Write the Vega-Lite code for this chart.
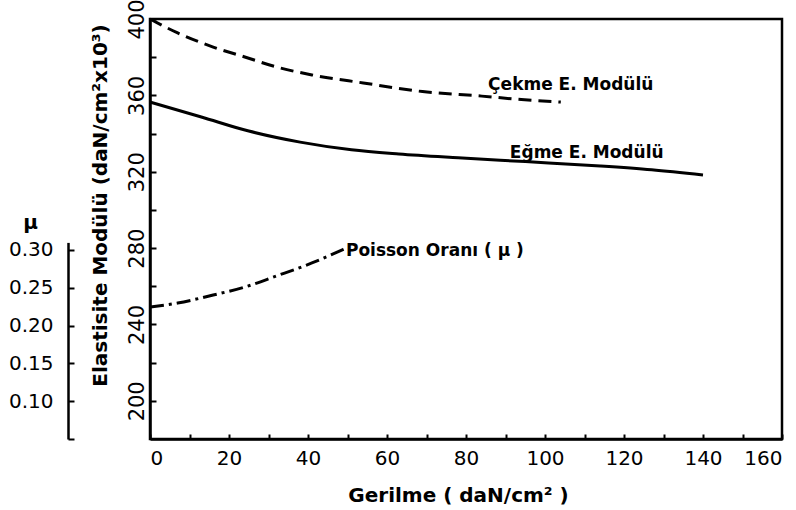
{
  "$schema": "https://vega.github.io/schema/vega-lite/v6.json",
  "width": 632,
  "height": 420,
  "autosize": {"type": "none"},
  "padding": {"left": 150, "top": 19, "right": 14, "bottom": 71},
  "background": "white",
  "config": {
    "view": {"stroke": "black", "strokeWidth": 2.5},
    "axis": {
      "grid": false,
      "labelFont": "DejaVu Sans",
      "titleFont": "DejaVu Sans",
      "labelColor": "black",
      "titleColor": "black",
      "domainColor": "black",
      "tickColor": "black",
      "domainWidth": 2.5,
      "tickWidth": 2
    }
  },
  "datasets": {
    "cekme": [
      {"gerilme": 0, "E": 400},
      {"gerilme": 7, "E": 392.7},
      {"gerilme": 16, "E": 385.3},
      {"gerilme": 24, "E": 380.1},
      {"gerilme": 32, "E": 374.9},
      {"gerilme": 41, "E": 370.7},
      {"gerilme": 54, "E": 366.5},
      {"gerilme": 69, "E": 362.0},
      {"gerilme": 84, "E": 359.6},
      {"gerilme": 94, "E": 357.8},
      {"gerilme": 104, "E": 356.5}
    ],
    "egme": [
      {"gerilme": 0, "E": 356.5},
      {"gerilme": 13, "E": 348.7},
      {"gerilme": 25, "E": 341.3},
      {"gerilme": 38, "E": 335.5},
      {"gerilme": 51, "E": 331.5},
      {"gerilme": 63, "E": 329.3},
      {"gerilme": 78, "E": 327.3},
      {"gerilme": 95, "E": 325.3},
      {"gerilme": 114, "E": 323.0},
      {"gerilme": 127, "E": 321.0},
      {"gerilme": 140, "E": 318.3}
    ],
    "poisson": [
      {"gerilme": 0, "mu": 0.2245},
      {"gerilme": 7, "mu": 0.2298},
      {"gerilme": 16, "mu": 0.2404},
      {"gerilme": 24, "mu": 0.251},
      {"gerilme": 32, "mu": 0.2656},
      {"gerilme": 41, "mu": 0.2828},
      {"gerilme": 49, "mu": 0.301}
    ],
    "labels": [
      {"text": "Çekme E. Modülü", "gerilme": 85.6, "E": 362.8},
      {"text": "Eğme E. Modülü", "gerilme": 91.1, "E": 327.2},
      {"text": "Poisson Oranı ( μ )", "gerilme": 49.6, "E": 275.9}
    ]
  },
  "encoding": {
    "x": {
      "field": "gerilme",
      "type": "quantitative",
      "scale": {"domain": [0, 160], "nice": false},
      "axis": {
        "title": "Gerilme  ( daN/cm² )",
        "values": [0, 10, 20, 30, 40, 50, 60, 70, 80, 90, 100, 110, 120, 130, 140, 150, 160],
        "labelExpr": "datum.value % 20 == 0 ? datum.label : ''",
        "tickSize": -5,
        "labelPadding": 14,
        "labelFontSize": 20,
        "titleFontSize": 20,
        "titleFontWeight": "bold",
        "titleX": 308,
        "titleY": 62,
        "titleBaseline": "alphabetic"
      }
    }
  },
  "layer": [
    {
      "encoding": {
        "y": {
          "field": "E",
          "type": "quantitative",
          "scale": {"domain": [180, 400], "nice": false},
          "axis": {
            "title": "Elastisite Modülü (daN/cm²x10³)",
            "values": [200, 220, 240, 260, 280, 300, 320, 340, 360, 380, 400],
            "labelExpr": "datum.value % 40 == 0 ? datum.label : ''",
            "labelAngle": -90,
            "labelAlign": "center",
            "labelBaseline": "bottom",
            "tickSize": -6,
            "labelPadding": 9,
            "labelFontSize": 21,
            "titleFontSize": 20,
            "titleFontWeight": "bold",
            "titleAngle": -90,
            "titleX": -50,
            "titleY": 186,
            "titleAlign": "center",
            "titleBaseline": "middle"
          }
        }
      },
      "layer": [
        {
          "data": {"name": "cekme"},
          "mark": {"type": "line", "color": "black", "strokeWidth": 3, "strokeDash": [13, 7], "interpolate": "monotone"}
        },
        {
          "data": {"name": "egme"},
          "mark": {"type": "line", "color": "black", "strokeWidth": 3, "interpolate": "monotone"}
        },
        {
          "data": {"name": "labels"},
          "mark": {"type": "text", "align": "left", "baseline": "alphabetic", "font": "DejaVu Sans", "fontWeight": "bold", "fontSize": 17, "color": "black"},
          "encoding": {
            "text": {"field": "text"}
          }
        }
      ]
    },
    {
      "data": {"name": "poisson"},
      "mark": {"type": "line", "color": "black", "strokeWidth": 3, "strokeDash": [14, 5, 3, 5], "interpolate": "monotone"},
      "encoding": {
        "y": {
          "field": "mu",
          "type": "quantitative",
          "scale": {"domain": [0.05, 0.31], "range": [420, 223.4], "nice": false, "zero": false},
          "axis": {
            "orient": "left",
            "offset": 82,
            "title": "μ",
            "values": [0.05, 0.1, 0.15, 0.2, 0.25, 0.3],
            "format": ".2f",
            "labelExpr": "datum.value < 0.07 ? '' : datum.label",
            "tickSize": -6,
            "labelPadding": 21,
            "labelFontSize": 20,
            "titleFontSize": 20,
            "titleFontWeight": "bold",
            "titleAngle": 0,
            "titleX": -38,
            "titleY": 209,
            "titleAlign": "center",
            "titleBaseline": "alphabetic"
          }
        }
      }
    }
  ],
  "resolve": {"scale": {"y": "independent"}, "axis": {"y": "independent"}}
}
